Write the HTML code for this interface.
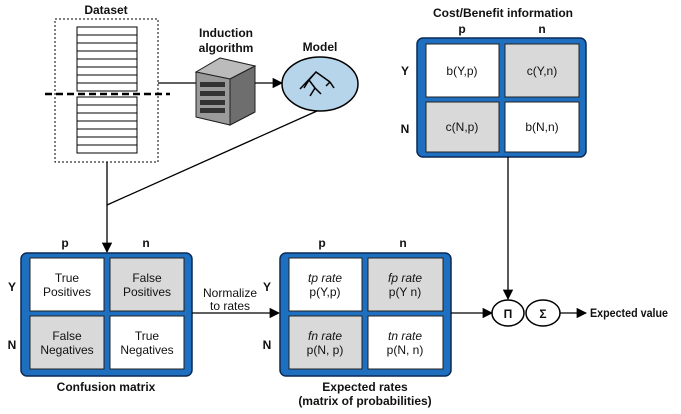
<!DOCTYPE html>
<html><head><meta charset="utf-8"><style>
html,body{margin:0;padding:0;background:#fff;width:681px;height:414px;overflow:hidden}
svg text{font-family:"Liberation Sans",sans-serif;font-size:12px;fill:#111}
.b{font-weight:bold}
</style></head><body>
<svg width="681" height="414" viewBox="0 0 681 414" xmlns="http://www.w3.org/2000/svg">
<defs><marker id="a" viewBox="0 0 10 10" refX="9" refY="5" markerWidth="8" markerHeight="8" orient="auto"><path d="M0,0 L10,5 L0,10 z" fill="#000"/></marker></defs>
<text x="106" y="14" text-anchor="middle" class="b">Dataset</text>
<rect x="55" y="19" width="103" height="143" fill="none" stroke="#000" stroke-dasharray="2,2"/>
<g fill="#fff" stroke="#000" stroke-width="1">
<rect x="77" y="27" width="60" height="64"/>
<line x1="77" y1="35" x2="137" y2="35"/><line x1="77" y1="43" x2="137" y2="43"/><line x1="77" y1="51" x2="137" y2="51"/><line x1="77" y1="59" x2="137" y2="59"/><line x1="77" y1="67" x2="137" y2="67"/><line x1="77" y1="75" x2="137" y2="75"/><line x1="77" y1="83" x2="137" y2="83"/>
<rect x="77" y="97" width="60" height="56"/>
<line x1="77" y1="105" x2="137" y2="105"/><line x1="77" y1="113" x2="137" y2="113"/><line x1="77" y1="121" x2="137" y2="121"/><line x1="77" y1="129" x2="137" y2="129"/><line x1="77" y1="137" x2="137" y2="137"/><line x1="77" y1="145" x2="137" y2="145"/>
</g>
<line x1="45" y1="94" x2="170" y2="94" stroke="#000" stroke-width="2.5" stroke-dasharray="7,4"/>
<line x1="158" y1="83" x2="196" y2="83" stroke="#000" stroke-width="1.3"/>
<text x="226" y="37" text-anchor="middle" class="b">Induction</text>
<text x="226" y="52" text-anchor="middle" class="b">algorithm</text>
<polygon points="196,72 220,58 255,66 255,112 230,125 196,117" fill="#888" stroke="#222"/>
<polygon points="196,72 220,58 255,66 230,79" fill="#bbb" stroke="#222"/>
<polygon points="196,72 230,79 230,125 196,117" fill="#9a9a9a" stroke="#222"/>
<polygon points="230,79 255,66 255,112 230,125" fill="#6e6e6e" stroke="#222"/>
<g fill="#333"><rect x="200" y="82" width="25" height="5"/><rect x="200" y="91" width="25" height="5"/><rect x="200" y="100" width="25" height="5"/><rect x="200" y="108" width="25" height="5"/></g>
<line x1="255" y1="83" x2="282" y2="83" stroke="#000" stroke-width="1.3" marker-end="url(#a)"/>
<text x="320" y="51" text-anchor="middle" class="b">Model</text>
<ellipse cx="320" cy="84" rx="38" ry="27" fill="#b6d4ea" stroke="#000" stroke-width="1.5"/>
<path d="M300,89 L316,72 L330,82 M316,72 L309,80 L315,88 M309,80 L304,88 M315,88 L310,96 M315,88 L321,94 M330,82 L326,86 M330,82 L334,88" fill="none" stroke="#000" stroke-width="1.5"/>
<line x1="317" y1="111" x2="107" y2="205" stroke="#000" stroke-width="1.3"/>
<line x1="107" y1="162" x2="107" y2="252" stroke="#000" stroke-width="1.3" marker-end="url(#a)"/>
<text x="65" y="247" text-anchor="middle" class="b">p</text><text x="146" y="247" text-anchor="middle" class="b">n</text>
<text x="12" y="291" text-anchor="middle" class="b">Y</text><text x="12" y="349" text-anchor="middle" class="b">N</text>
<rect x="21" y="253" width="171" height="123" rx="6" fill="#1f6fc0" stroke="#0a2a55" stroke-width="1.5"/>
<rect x="30" y="258" width="74" height="53" fill="#fff" stroke="#222"/>
<rect x="110" y="258" width="74" height="53" fill="#d9d9d9" stroke="#222"/>
<rect x="30" y="316" width="74" height="53" fill="#d9d9d9" stroke="#222"/>
<rect x="110" y="316" width="74" height="53" fill="#fff" stroke="#222"/>
<g text-anchor="middle"><text x="67" y="282">True</text><text x="67" y="296">Positives</text>
<text x="147" y="282">False</text><text x="147" y="296">Positives</text>
<text x="67" y="340">False</text><text x="67" y="354">Negatives</text>
<text x="147" y="340">True</text><text x="147" y="354">Negatives</text></g>
<text x="106" y="391" text-anchor="middle" class="b">Confusion matrix</text>
<text x="230" y="297" text-anchor="middle">Normalize</text><text x="230" y="310" text-anchor="middle">to rates</text>
<line x1="192" y1="313" x2="279" y2="313" stroke="#000" stroke-width="1.3" marker-end="url(#a)"/>
<text x="322" y="247" text-anchor="middle" class="b">p</text><text x="403" y="247" text-anchor="middle" class="b">n</text>
<text x="267" y="291" text-anchor="middle" class="b">Y</text><text x="267" y="349" text-anchor="middle" class="b">N</text>
<rect x="280" y="253" width="171" height="123" rx="6" fill="#1f6fc0" stroke="#0a2a55" stroke-width="1.5"/>
<rect x="289" y="258" width="73" height="53" fill="#fff" stroke="#222"/>
<rect x="368" y="258" width="75" height="53" fill="#d9d9d9" stroke="#222"/>
<rect x="289" y="316" width="73" height="53" fill="#d9d9d9" stroke="#222"/>
<rect x="368" y="316" width="75" height="53" fill="#fff" stroke="#222"/>
<g text-anchor="middle"><text x="325" y="282" font-style="italic">tp rate</text><text x="325" y="296">p(Y,p)</text>
<text x="405" y="282" font-style="italic">fp rate</text><text x="405" y="296">p(Y n)</text>
<text x="325" y="340" font-style="italic">fn rate</text><text x="325" y="354">p(N, p)</text>
<text x="405" y="340" font-style="italic">tn rate</text><text x="405" y="354">p(N, n)</text></g>
<text x="365" y="391" text-anchor="middle" class="b">Expected rates</text>
<text x="365" y="405" text-anchor="middle" class="b">(matrix of probabilities)</text>
<text x="503" y="17" text-anchor="middle" class="b">Cost/Benefit information</text>
<text x="462" y="33" text-anchor="middle" class="b">p</text><text x="542" y="33" text-anchor="middle" class="b">n</text>
<text x="405" y="75" text-anchor="middle" class="b">Y</text><text x="405" y="133" text-anchor="middle" class="b">N</text>
<rect x="417" y="38" width="169" height="119" rx="6" fill="#1f6fc0" stroke="#0a2a55" stroke-width="1.5"/>
<rect x="426" y="44" width="73" height="53" fill="#fff" stroke="#222"/>
<rect x="505" y="44" width="74" height="53" fill="#d9d9d9" stroke="#222"/>
<rect x="426" y="102" width="73" height="50" fill="#d9d9d9" stroke="#222"/>
<rect x="505" y="102" width="74" height="50" fill="#fff" stroke="#222"/>
<g text-anchor="middle"><text x="462" y="75">b(Y,p)</text><text x="542" y="75">c(Y,n)</text>
<text x="462" y="131">c(N,p)</text><text x="542" y="131">b(N,n)</text></g>
<line x1="508" y1="157" x2="508" y2="299" stroke="#000" stroke-width="1.3" marker-end="url(#a)"/>
<line x1="451" y1="313" x2="492" y2="313" stroke="#000" stroke-width="1.3" marker-end="url(#a)"/>
<ellipse cx="508" cy="313" rx="16" ry="13" fill="#fff" stroke="#000" stroke-width="1.5"/>
<ellipse cx="543" cy="313" rx="17" ry="13" fill="#fff" stroke="#000" stroke-width="1.5"/>
<text x="508" y="318" text-anchor="middle" class="b">Π</text>
<text x="543" y="318" text-anchor="middle" class="b">Σ</text>
<line x1="560" y1="313" x2="586" y2="313" stroke="#000" stroke-width="1.3" marker-end="url(#a)"/>
<text x="590" y="317" class="b" textLength="78" lengthAdjust="spacingAndGlyphs">Expected value</text>
</svg>
</body></html>
